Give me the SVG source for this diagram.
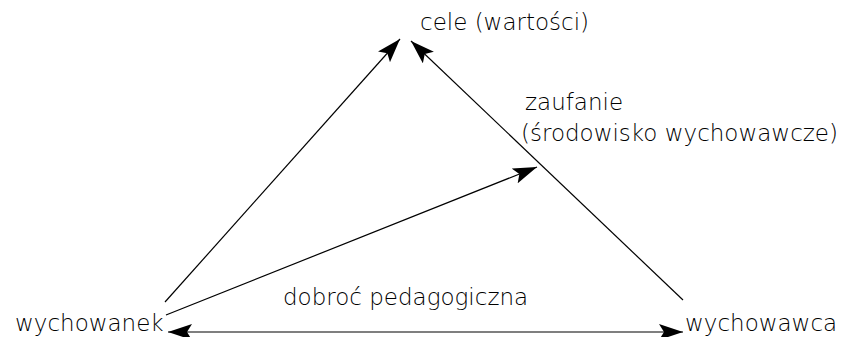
<svg xmlns="http://www.w3.org/2000/svg" width="851" height="337" viewBox="0 0 851 337">
<style>
text{font-family:"DejaVu Sans","Liberation Sans",sans-serif;font-weight:200;font-size:23px;fill:#000}
.c{stroke:#000;stroke-width:1.2;fill:none}
</style>
<defs>
<marker id="ah" markerUnits="userSpaceOnUse" markerWidth="26" markerHeight="16" refX="24" refY="8" orient="auto-start-reverse" viewBox="0 0 26 16">
<path d="M0,0 L24,8 L0,16 L5,8 Z" fill="#000"/>
</marker>
</defs>
<rect width="851" height="337" fill="#fff"/>
<g id="connectors">
<line class="c" x1="165" y1="302" x2="400" y2="39" marker-end="url(#ah)"/>
<line class="c" x1="683" y1="300" x2="411" y2="41" marker-end="url(#ah)"/>
<line class="c" x1="166" y1="315" x2="537" y2="167" marker-end="url(#ah)"/>
<line class="c" x1="168" y1="332" x2="683" y2="332" marker-start="url(#ah)" marker-end="url(#ah)"/>
</g>
<g id="cele"><text x="420" y="30">cele (wartości)</text></g>
<g id="zaufanie"><text x="525" y="110">zaufanie</text><text x="521" y="141">(środowisko wychowawcze)</text></g>
<g id="wychowanek"><text x="15" y="331">wychowanek</text></g>
<g id="dobroc"><text x="283" y="305">dobroć pedagogiczna</text></g>
<g id="wychowawca"><text x="685" y="331">wychowawca</text></g>
</svg>
